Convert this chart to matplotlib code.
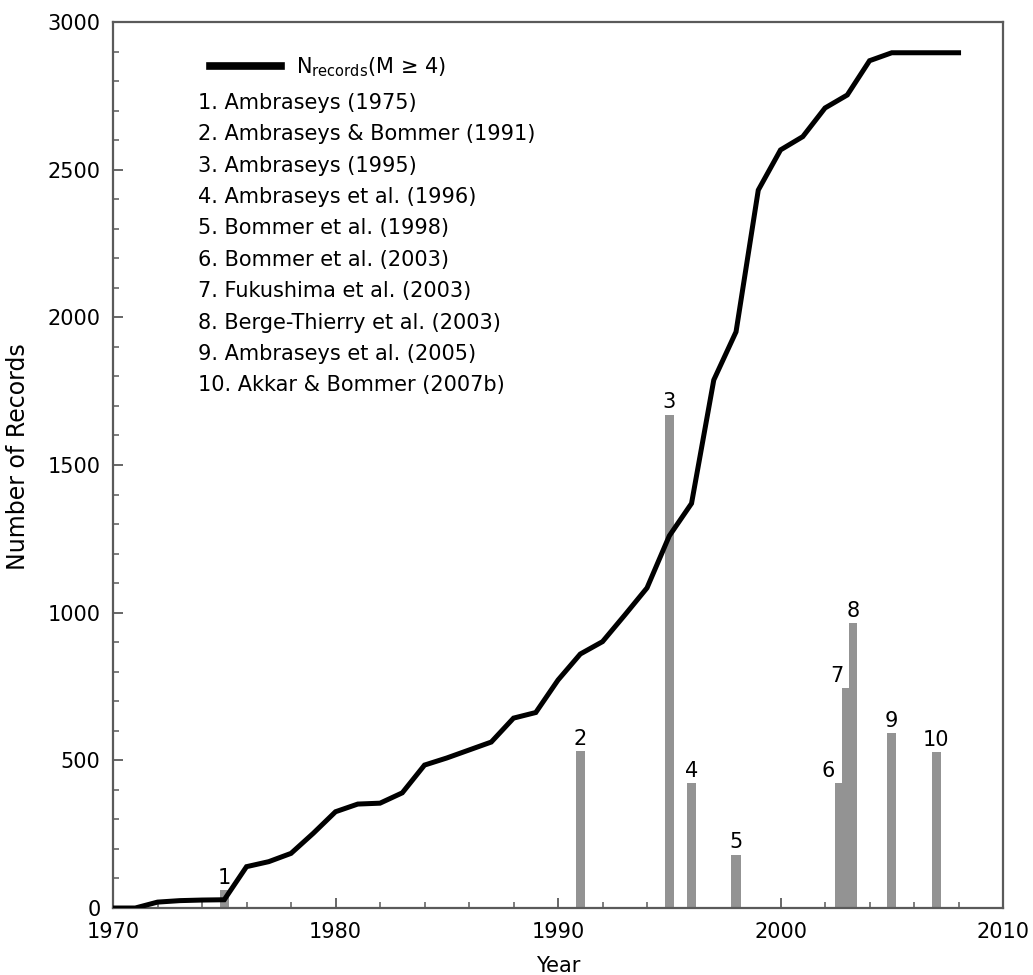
import matplotlib
matplotlib.use("Agg")
import matplotlib.pyplot as plt
from matplotlib.lines import Line2D
from matplotlib.ticker import MultipleLocator

plt.rcParams['font.family'] = ['DejaVu Sans']

# cumulative number of records (M >= 4)
years = list(range(1970, 2009))
n_records = [0, 0, 20, 25, 27, 28, 140, 157, 185, 253,
             326, 352, 355, 390, 484, 508, 535, 562, 643, 662,
             772, 860, 902, 992, 1084, 1260, 1370, 1788, 1951, 2431,
             2567, 2612, 2709, 2753, 2869, 2896, 2896, 2896, 2896]

# databanks (bars)
bar_labels = ['1', '2', '3', '4', '5', '6', '7', '8', '9', '10']
bar_years = [1975, 1991, 1995, 1996, 1998, 2002.6, 2002.93, 2003.26, 2005, 2007]
bar_counts = [61, 532, 1670, 423, 180, 423, 745, 965, 593, 528]

references = [
    "1. Ambraseys (1975)",
    "2. Ambraseys & Bommer (1991)",
    "3. Ambraseys (1995)",
    "4. Ambraseys et al. (1996)",
    "5. Bommer et al. (1998)",
    "6. Bommer et al. (2003)",
    "7. Fukushima et al. (2003)",
    "8. Berge-Thierry et al. (2003)",
    "9. Ambraseys et al. (2005)",
    "10. Akkar & Bommer (2007b)",
]

FS = 15
frame_col = '#5a5a5a'
bar_col = '#939393'

fig = plt.figure(figsize=(10.33, 9.75), dpi=100)
ax = fig.add_axes([0.1094, 0.0687, 0.8616, 0.9087])

bar_widths = [0.42] * 5 + [0.34] * 3 + [0.42] * 2
ax.bar(bar_years, bar_counts, width=bar_widths, color=bar_col, zorder=2)
ax.plot(years, n_records, color='black', lw=3.6, solid_joinstyle='miter', zorder=3)

# bar labels: (dx in years, ha)
label_style = [(0, 'center'), (0, 'center'), (0, 'center'), (0, 'center'), (0, 'center'),
               (-0.15, 'right'), (-0.12, 'right'), (0.02, 'center'), (0, 'center'), (0, 'center')]
for lab, x, y, (dx, ha) in zip(bar_labels, bar_years, bar_counts, label_style):
    ax.text(x + dx, y + 8, lab, ha=ha, va='bottom', fontsize=FS, zorder=4)

ax.set_xlim(1970, 2010)
ax.set_ylim(0, 3000)
ax.xaxis.set_major_locator(MultipleLocator(10))
ax.xaxis.set_minor_locator(MultipleLocator(2))
ax.yaxis.set_major_locator(MultipleLocator(500))
ax.yaxis.set_minor_locator(MultipleLocator(100))
ax.tick_params(which='both', direction='in', color=frame_col, labelsize=FS)
ax.tick_params(which='major', length=7, width=1.3)
ax.tick_params(which='minor', length=4, width=1.1)
ax.tick_params(axis='y', which='major', pad=9)
ax.tick_params(axis='x', which='major', pad=10)
for s in ax.spines.values():
    s.set_color(frame_col)
    s.set_linewidth(1.6)

ax.set_xlabel('Year', fontsize=FS, labelpad=10)
ax.set_ylabel('Number of Records', fontsize=17)
ax.yaxis.set_label_coords(-0.093, 0.51)

# legend for the curve
h = Line2D([], [], color='black', lw=5.5)
ax.legend([h], [r'N$_{\mathregular{records}}$(M ≥ 4)'], loc='center left',
          bbox_to_anchor=(0.109, 0.949), frameon=False, fontsize=FS,
          handlelength=3.4, handletextpad=0.75, borderpad=0, borderaxespad=0)

y0 = 0.9086
step = 0.0354
for i, ref in enumerate(references):
    ax.text(0.0955, y0 - i * step, ref, transform=ax.transAxes,
            ha='left', va='center', fontsize=FS)

fig.savefig('out.png', dpi=100)
